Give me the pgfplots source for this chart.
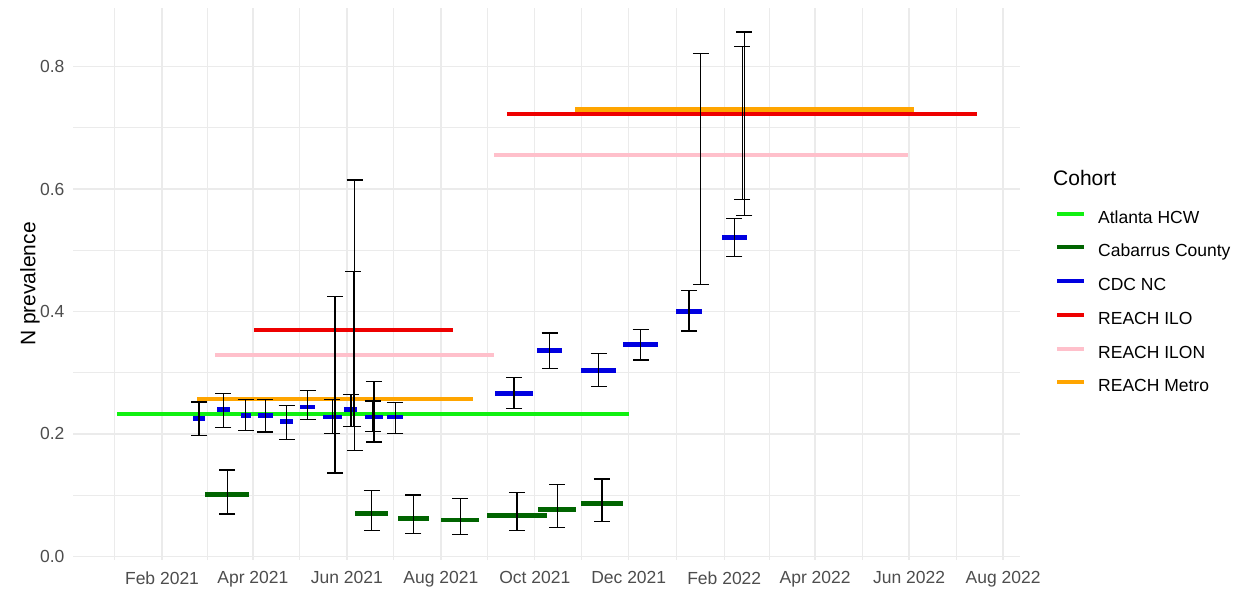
\documentclass[border=0pt]{standalone}
\usepackage{fontspec}
\setmainfont{Liberation Sans}
\usepackage{pgfplots}
\usepackage{pgfplotstable}
\pgfplotsset{compat=1.18}
\definecolor{atl}{HTML}{11F011}
\definecolor{cab}{HTML}{006400}
\definecolor{cdc}{HTML}{0000E0}
\definecolor{ilo}{HTML}{EE0000}
\definecolor{ilon}{HTML}{FFC0CB}
\definecolor{metro}{HTML}{FFA500}
\definecolor{gridc}{HTML}{EBEBEB}
\definecolor{ticktext}{HTML}{4D4D4D}

% x = days since 2021-01-01; h = half length of the period; y = estimate; lo/hi = interval
\pgfplotstableread{
x h y lo hi
168 166.2 0.2323 0.2035 0.254
}\atlanta
\pgfplotstableread{
x h y lo hi
73.3 14.4 0.101 0.069 0.141
167.15 10.85 0.070 0.042 0.107
194.25 10.25 0.062 0.0376 0.100
224.55 12.45 0.059 0.0355 0.095
261.4 19.4 0.067 0.0425 0.104
287.55 12.25 0.0764 0.047 0.117
316.55 13.55 0.0862 0.0573 0.1265
}\cabarrus
\pgfplotstableread{
x h y lo hi
55 3.9 0.225 0.198 0.252
70.8 4.3 0.240 0.211 0.266
85.35 3.25 0.230 0.206 0.256
98 4.9 0.230 0.203 0.256
111.9 4.3 0.220 0.191 0.2465
125.45 4.85 0.244 0.224 0.271
141.5 6.2 0.228 0.201 0.256
153.6 4.2 0.240 0.212 0.264
168.55 5.75 0.228 0.187 0.286
182.5 5.2 0.228 0.201 0.2515
259.55 12.35 0.266 0.242 0.292
282.6 8.1 0.336 0.307 0.365
314.4 11.4 0.304 0.278 0.331
341.7 11.4 0.3458 0.321 0.371
373.15 8.45 0.400 0.368 0.434
402.6 8 0.521 0.490 0.552
}\cdcnc
\pgfplotstableread{
x h y lo hi
155.1 64.6 0.3697 0.2127 0.465
407.65 152.65 0.7226 0.5835 0.833
}\reachilo
\pgfplotstableread{
x h y lo hi
156.05 90.45 0.329 0.173 0.615
380.8 134.3 0.656 0.4445 0.822
}\reachilon
\pgfplotstableread{
x h y lo hi
143.3 89.8 0.2568 0.136 0.425
409.1 110.1 0.730 0.557 0.857
}\reachmetro

\pgfplotsset{
  seg/.style={draw=none, mark=none, forget plot,
    error bars/x dir=both, error bars/x explicit,
    error bars/error mark=none,
    error bars/error bar style={line width=4.5bp, draw=#1}},
  ebar/.style={draw=none, mark=none, forget plot,
    error bars/y dir=both, error bars/y explicit,
    error bars/error mark=-,
    error bars/error bar style={line width=1.3bp, draw=black},
    error bars/error mark options={rotate=90, draw=black, line width=1.3bp, mark size=8bp}},
}

\begin{document}
\begin{tikzpicture}
\begin{axis}[
  width=947bp, height=552bp, scale only axis,
  xmin=-26.8, xmax=588, ymin=-0.006, ymax=0.896,
  xtick={31,90,151,212,273,334,396,455,516,577},
  xticklabels={Feb 2021,Apr 2021,Jun 2021,Aug 2021,Oct 2021,Dec 2021,Feb 2022,Apr 2022,Jun 2022,Aug 2022},
  minor xtick={0,60.5,120.5,181.5,242.5,303.5,365,425.5,485.5,546.5},
  ytick={0,0.2,0.4,0.6,0.8},
  yticklabels={0.0,0.2,0.4,0.6,0.8},
  minor ytick={0.1,0.3,0.5,0.7},
  grid=both,
  major grid style={draw=gridc, line width=1.4bp},
  minor grid style={draw=gridc, line width=0.9bp},
  axis line style={draw=none},
  tick style={draw=none},
  major tick length=0pt, minor tick length=0pt,
  tick label style={font=\fontsize{17.5bp}{20bp}\selectfont, text=ticktext},
  xticklabel style={yshift=-8bp},
  yticklabel style={xshift=-5bp},
  ylabel={N prevalence},
  ylabel style={font=\fontsize{21bp}{24bp}\selectfont, at={(axis description cs:-0.0454,0.5)}, anchor=center},
  clip=false,
  legend image code/.code={\draw[#1] (0bp,5bp) -- (27bp,5bp);},
  legend cell align=left,
  legend style={at={(axis description cs:1,0.5)}, anchor=west, xshift=35bp, yshift=-19bp,
    draw=none, fill=none, inner sep=0pt,
    font=\fontsize{17.5bp}{20bp}\selectfont,
    nodes={inner sep=0pt, text height=12.5bp, text depth=3.5bp},
    row sep=17.7bp,
    /tikz/every odd column/.append style={column sep=12bp}},
]
\addlegendimage{line width=4bp, draw=atl}\addlegendentry{Atlanta HCW}
\addlegendimage{line width=4bp, draw=cab}\addlegendentry{Cabarrus County}
\addlegendimage{line width=4bp, draw=cdc}\addlegendentry{CDC NC}
\addlegendimage{line width=4bp, draw=ilo}\addlegendentry{REACH ILO}
\addlegendimage{line width=4bp, draw=ilon}\addlegendentry{REACH ILON}
\addlegendimage{line width=4bp, draw=metro}\addlegendentry{REACH Metro}

\addplot[seg=atl] table[x=x, y=y, x error=h] {\atlanta};
\addplot[seg=cab] table[x=x, y=y, x error=h] {\cabarrus};
\addplot[seg=cdc] table[x=x, y=y, x error=h] {\cdcnc};
\addplot[seg=ilo] table[x=x, y=y, x error=h] {\reachilo};
\addplot[seg=ilon] table[x=x, y=y, x error=h] {\reachilon};
\addplot[seg=metro] table[x=x, y=y, x error=h] {\reachmetro};

\addplot[ebar] table[x=x, y=y, y error plus expr=\thisrow{hi}-\thisrow{y}, y error minus expr=\thisrow{y}-\thisrow{lo}] {\atlanta};
\addplot[ebar] table[x=x, y=y, y error plus expr=\thisrow{hi}-\thisrow{y}, y error minus expr=\thisrow{y}-\thisrow{lo}] {\cabarrus};
\addplot[ebar] table[x=x, y=y, y error plus expr=\thisrow{hi}-\thisrow{y}, y error minus expr=\thisrow{y}-\thisrow{lo}] {\cdcnc};
\addplot[ebar] table[x=x, y=y, y error plus expr=\thisrow{hi}-\thisrow{y}, y error minus expr=\thisrow{y}-\thisrow{lo}] {\reachilo};
\addplot[ebar] table[x=x, y=y, y error plus expr=\thisrow{hi}-\thisrow{y}, y error minus expr=\thisrow{y}-\thisrow{lo}] {\reachilon};
\addplot[ebar] table[x=x, y=y, y error plus expr=\thisrow{hi}-\thisrow{y}, y error minus expr=\thisrow{y}-\thisrow{lo}] {\reachmetro};

\node[anchor=west, inner sep=0pt, font=\fontsize{21bp}{24bp}\selectfont] at (axis description cs:1.0348,0.692) {Cohort};
\end{axis}
\pgfresetboundingbox
\useasboundingbox (-73bp,-36bp) rectangle (1171bp,560bp);
\end{tikzpicture}
\end{document}
